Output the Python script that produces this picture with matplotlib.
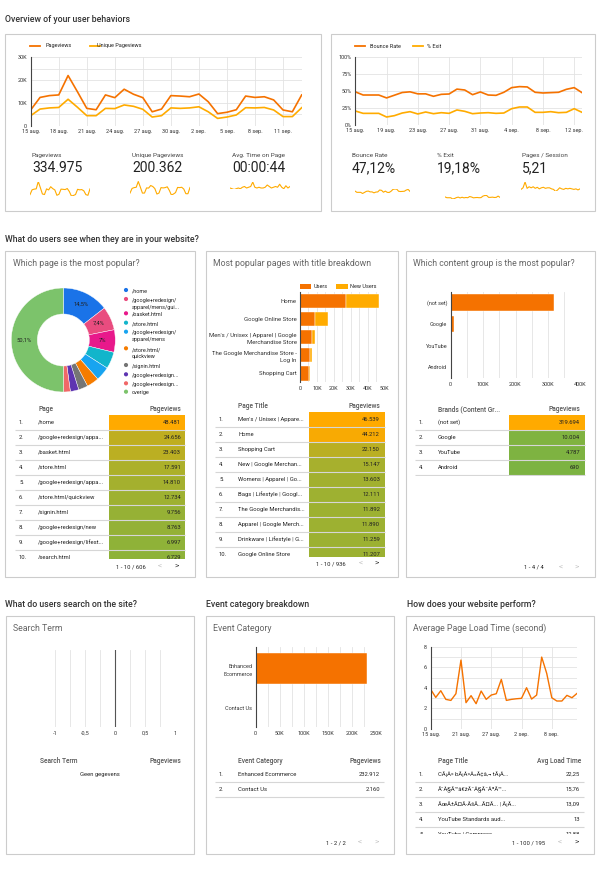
import matplotlib
matplotlib.use('Agg')
import matplotlib.pyplot as plt
from matplotlib.patches import Rectangle
from matplotlib.lines import Line2D
from matplotlib.ticker import MultipleLocator
import numpy as np

plt.rcParams['font.family'] = ['Roboto', 'DejaVu Sans']

# ---------------- data ----------------
days = list(range(30))  # 15 aug .. 13 sep

ticks_a = [0, 3, 6, 9, 12, 15, 18, 21, 24, 27]
tick_labels_a = ['15 aug.', '18 aug.', '21 aug.', '24 aug.', '27 aug.', '30 aug.',
                 '2 sep.', '5 sep.', '8 sep.', '11 sep.']
ticks_b = [0, 4, 8, 12, 16, 20, 24, 28]
tick_labels_b = ['15 aug.', '19 aug.', '23 aug.', '27 aug.', '31 aug.', '4 sep.',
                 '8 sep.', '12 sep.']
ticks_c = [0, 6, 12, 18, 24]
tick_labels_c = ['15 aug.', '21 aug.', '27 aug.', '2 sep.', '8 sep.']

pageviews = [6900, 12400, 13200, 13500, 22000, 14900, 7600, 7000, 13500, 12300,
             16000, 13800, 12300, 6100, 7300, 13200, 13000, 12700, 13900, 10500,
             5300, 5900, 7000, 13000, 12400, 12700, 11300, 6900, 6100, 13500]
unique_pageviews = [4400, 7300, 7800, 8000, 11600, 8100, 4400, 4400, 7600, 7500,
                    9100, 8500, 7200, 3800, 4400, 7800, 7600, 7800, 8300, 6100,
                    3200, 3800, 4700, 7900, 7800, 8000, 6900, 4000, 4000, 7900]
avg_time_on_page = [43, 42, 41, 42, 43, 42, 44, 45, 43, 44, 45, 51, 44, 43, 44,
                    43, 43, 44, 47, 45, 43, 44, 45, 44, 48, 44, 42, 46, 43, 45]
bounce_rate = [49, 44.3, 44.3, 44.3, 40, 44, 48, 49, 46, 46, 42.4, 45.3, 45.8, 53,
               51.7, 44.8, 48.8, 44.3, 43.8, 48.3, 55.2, 56.7, 56.2, 48.3, 47.3,
               47.8, 48.3, 52.7, 55.2, 47.8]
exit_rate = [20.7, 17.2, 17.2, 17.2, 11.8, 13.8, 17.7, 19.7, 16.3, 19.2, 16.7, 18.2,
             17.2, 22.2, 20.2, 16.7, 17.7, 18.2, 17.2, 17.7, 24.1, 26.6, 26.6, 18.7,
             18.7, 19.7, 18.2, 18.7, 24.1, 18.7]
pages_per_session = [5.0, 5.3, 6.4, 5.2, 5.5, 5.3, 5.5, 5.2, 5.4, 5.1, 5.3, 5.4, 5.2,
                     5.3, 5.3, 5.1, 5.0, 4.6, 4.9, 5.3, 5.1, 5.0, 5.2, 5.1, 5.2, 5.1,
                     5.0, 5.1, 4.9, 5.1]
load_time = [3.85, 3.07, 3.72, 2.88, 2.78, 3.43, 6.70, 2.56, 3.24, 2.46, 3.69, 2.88,
             3.30, 3.43, 4.82, 2.78, 2.88, 2.94, 2.98, 4.01, 2.91, 3.30, 6.99, 5.40,
             3.04, 2.72, 2.72, 3.27, 3.04, 3.46]

kpi_left_labels = ['Pageviews', 'Unique Pageviews', 'Avg. Time on Page']
kpi_left_values = ['334.975', '200.362', '00:00:44']
kpi_right_labels = ['Bounce Rate', '% Exit', 'Pages / Session']
kpi_right_values = ['47,12%', '19,18%', '5,21']

total_pageviews = 334975
pages = ['/home', '/google+redesign/appa...', '/basket.html', '/store.html',
         '/google+redesign/appa...', '/store.html/quickview', '/signin.html',
         '/google+redesign/new', '/google+redesign/lifest...', '/search.html']
page_views = [48481, 24656, 23403, 17591, 14810, 12734, 9756, 8763, 6997, 6729]
pie_legend = ['/home', '/google+redesign/\napparel/mens/gui...', '/basket.html',
              '/store.html', '/google+redesign/\napparel/mens', '/store.html/\nquickview',
              '/signin.html', '/google+redesign...', '/google+redesign...', 'overige']
pie_colors = ['#1a73e8', '#e94c7f', '#e8198b', '#12b5cb', '#18a4f0', '#f57c00',
              '#757575', '#5e35b1', '#f06868', '#7cc36b']

bar_titles = ['Home', 'Google Online Store',
              "Men's / Unisex | Apparel | Google\nMerchandise Store",
              'The Google Merchandise Store -\nLog In', 'Shopping Cart']
bar_users = [27400, 8900, 7300, 5900, 5300]
bar_new_users = [19100, 7600, 1400, 1200, 800]

page_titles = ["Men's / Unisex | Appare...", 'Home', 'Shopping Cart',
               'New | Google Merchan...', 'Womens | Apparel | Go...',
               'Bags | Lifestyle | Googl...', 'The Google Merchandis...',
               'Apparel | Google Merch...', 'Drinkware | Lifestyle | G...',
               'Google Online Store']
page_title_views = [46539, 44212, 22150, 15147, 13603, 12111, 11892, 11890, 11259, 11207]

brands = ['(not set)', 'Google', 'YouTube', 'Android']
brand_views = [319694, 10004, 4787, 690]

event_categories = ['Enhanced\nEcommerce', 'Contact Us']
event_table_labels = ['Enhanced Ecommerce', 'Contact Us']
event_views = [232912, 2160]

load_titles = ['CÃ¡Â» bÃ¡Â»Â«Ã¢â‚¬ tÃ¡Â...', 'Ã˜Â§Ã™â€žÃ˜Â§Ã˜ÂªÃ™...',
               'ÃœÃ±Ã¤Ã­ÃšÃ…Ã¤Ã... | Ã¡Ã...', 'YouTube Standards aud...',
               'YouTube | Compress...']
load_values = [22.25, 15.76, 13.09, 13.0, 12.88]

# ---------------- style ----------------
W, H = 600, 871
C_DARK = '#f57200'
C_LIGHT = '#ffab00'
GRID = '#e3e3e3'
TXT = '#222222'
GREEN = np.array([124, 179, 66]) / 255
ORANGE = np.array([255, 170, 0]) / 255

fig = plt.figure(figsize=(6, 8.71), dpi=100)
fig.patch.set_facecolor('white')


def fx(x):
    return x / W


def fy(y):
    return 1 - y / H


def add_ax(x, y, w, h):
    return fig.add_axes([x / W, 1 - (y + h) / H, w / W, h / H])


def T(x, y, s, size=5, color=TXT, ha='left', va='center', **kw):
    fig.text(fx(x), fy(y), s, fontsize=size, color=color, ha=ha, va=va, **kw)


def box(x0, y0, x1, y1):
    fig.add_artist(Rectangle((fx(x0), fy(y1)), (x1 - x0) / W, (y1 - y0) / H,
                             transform=fig.transFigure, fill=False,
                             edgecolor='#cccccc', lw=0.8))


def leg_line(x0, x1, y, color):
    fig.add_artist(Line2D([fx(x0), fx(x1)], [fy(y), fy(y)], transform=fig.transFigure,
                          color=color, lw=1.3))


def leg_rect(x0, x1, y, color, h=4.6):
    fig.add_artist(Rectangle((fx(x0), fy(y + h / 2)), (x1 - x0) / W, h / H,
                             transform=fig.transFigure, color=color, lw=0))


def heat(v, vmax):
    t = v / vmax
    return tuple(GREEN * (1 - t) + ORANGE * t)


def fmt_int(v):
    return f'{v:,}'.replace(',', '.')


def kfmt(v):
    return '0' if v == 0 else f'{int(v / 1000)}K'


def style_axes(ax, left_spine=True):
    for s in ['top', 'right', 'bottom']:
        ax.spines[s].set_visible(False)
    ax.spines['left'].set_visible(left_spine)
    ax.spines['left'].set_color('#444444')
    ax.spines['left'].set_linewidth(0.8)
    ax.tick_params(length=0, labelsize=4, pad=2.5, colors='#333333')
    ax.set_axisbelow(True)


def sparkline(x, y, w, h, data, pad=0.0):
    ax = add_ax(x, y, w, h)
    ax.plot(range(len(data)), data, color=C_LIGHT, lw=0.8)
    lo, hi = min(data), max(data)
    r = hi - lo
    ax.set_ylim(lo - pad * r, hi + pad * r)
    ax.set_xlim(0, len(data) - 1)
    ax.axis('off')


# ---------------- section 1 ----------------
SEC = dict(size=6.3, color='#333333', fontweight='medium')
PT = dict(size=6.3, color='#666666')
T(5, 20, 'Overview of your user behaviors', **SEC)
box(5, 34, 321, 211)
box(331, 34, 595, 211)

# left line chart
leg_line(30, 40, 46, C_DARK)
T(45, 46, 'Pageviews', size=4)
leg_line(90, 100, 46, C_LIGHT)
T(97, 46, 'Unique Pageviews', size=4)
ax = add_ax(30.7, 57.3, 271, 68.4)
ax.plot(days, pageviews, color=C_DARK, lw=1.2)
ax.plot(days, unique_pageviews, color=C_LIGHT, lw=1.2)
ax.set_xlim(0, 29)
ax.set_ylim(0, 30000)
ax.set_yticks([0, 10000, 20000, 30000], [kfmt(v) for v in [0, 10000, 20000, 30000]])
ax.yaxis.set_minor_locator(MultipleLocator(5000))
ax.set_xticks(ticks_a, tick_labels_a)
ax.grid(which='both', axis='y', color=GRID, lw=0.6)
ax.grid(axis='x', color=GRID, lw=0.6)
style_axes(ax)
ax.tick_params(which='minor', length=0)

for i, (lab, val) in enumerate(zip(kpi_left_labels, kpi_left_values)):
    x0 = 32 + 100 * i
    T(x0, 155, lab, size=4.6, color='#444444')
    T(x0, 168, val, size=10)
sparkline(30, 181.5, 60, 14.5, pageviews)
sparkline(130, 181.5, 60, 13.5, unique_pageviews)
sparkline(230, 182, 60, 7.5, avg_time_on_page)

# right line chart
leg_line(355, 365, 46, C_DARK)
T(369.7, 46, 'Bounce Rate', size=4)
leg_line(413, 423, 46, C_LIGHT)
T(427, 46, '% Exit', size=4)
ax = add_ax(355.3, 57.3, 226.7, 67.7)
ax.plot(days, bounce_rate, color=C_DARK, lw=1.2)
ax.plot(days, exit_rate, color=C_LIGHT, lw=1.2)
ax.set_xlim(0, 29)
ax.set_ylim(0, 100)
ax.set_yticks([0, 25, 50, 75, 100], [f'{v}%' for v in [0, 25, 50, 75, 100]])
ax.set_xticks(ticks_b, tick_labels_b)
ax.grid(axis='both', color=GRID, lw=0.6)
style_axes(ax)

for i, (lab, val) in enumerate(zip(kpi_right_labels, kpi_right_values)):
    x0 = 352 + 85 * i
    T(x0, 155.7, lab, size=4.6, color='#444444')
    T(x0, 168, val, size=10)
sparkline(355, 189, 55, 4.5, bounce_rate)
sparkline(445, 195.5, 55, 3.5, exit_rate)
sparkline(521, 182, 59, 9.5, pages_per_session)

# ---------------- section 2 ----------------
T(5, 240, 'What do users see when they are in your website?', **SEC)
box(5, 251, 195, 577)
box(206, 251, 398, 577)
box(406, 251, 595, 577)
T(13, 263.3, 'Which page is the most popular?', **PT)
T(213, 263.3, 'Most popular pages with title breakdown', **PT)
T(413, 263.3, 'Which content group is the most popular?', **PT)

# donut
pie_vals = page_views[:9] + [total_pageviews - sum(page_views[:9])]


def pct_fmt(p):
    if p < 6:
        return ''
    s = f'{p:.1f}'.replace('.', ',')
    if s.endswith(',0'):
        s = s[:-2]
    return s + '%'


ax = add_ax(11.3, 288, 104, 104)
ax.pie(pie_vals, colors=pie_colors, startangle=90, counterclock=False,
       wedgeprops=dict(width=0.5, edgecolor='white', linewidth=0.3),
       autopct=pct_fmt, pctdistance=0.76,
       textprops=dict(fontsize=4.2, color='#222222'))
ax.set_xlim(-1, 1)
ax.set_ylim(-1, 1)

lax = add_ax(120, 280, 75, 118)
lax.set_xlim(120, 195)
lax.set_ylim(398, 280)
lax.axis('off')
leg_y = [290, 299, 313.3, 322.7, 331.7, 348.3, 365, 374.3, 383.3, 391.7]
lax.scatter([126] * len(pie_legend), leg_y, s=9, c=pie_colors, linewidths=0)
for yy, lab in zip(leg_y, pie_legend):
    lax.text(131.7, yy - 1.3, lab, fontsize=4, color='#222222', va='top',
             linespacing=1.5)


# tables
def draw_table(px0, px1, top, bottom, first_c, row_h, labels, values, num_x, label_x,
               val_x, val_fmt, cell=None, sep=(None, None), last_sep=True):
    ax = add_ax(px0, top, px1 - px0, bottom - top)
    ax.set_xlim(px0, px1)
    ax.set_ylim(bottom, top)
    ax.axis('off')
    n = len(values)
    centers = first_c + row_h * np.arange(n)
    if cell is not None:
        vmax = max(values)
        ax.barh(centers, cell[1] - cell[0], left=cell[0], height=row_h,
                color=[heat(v, vmax) for v in values], lw=0)
    seps = centers + row_h / 2
    if not last_sep:
        seps = seps[:-1]
    ax.hlines(seps, sep[0], sep[1], color='#d6d6d6', lw=0.8)
    for i, (lab, v) in enumerate(zip(labels, values)):
        c = centers[i]
        ax.text(num_x, c, f'{i + 1}.', fontsize=4.2, color=TXT, va='center', clip_on=True)
        ax.text(label_x, c, lab, fontsize=4.2, color=TXT, va='center', clip_on=True)
        ax.text(val_x, c, val_fmt(v), fontsize=4.2, color=TXT, va='center', ha='right',
                clip_on=True)
    return ax


def footer(xc, y, text, x_prev, x_next, next_active=True):
    T(xc, y, text, size=4.2, ha='center')
    T(x_prev, y, '<', size=6, color='#c4c4c4', ha='center')
    T(x_next, y, '>', size=6, color='#333333' if next_active else '#c4c4c4', ha='center')


HDR = dict(size=4.8, color='#555555', fontweight='medium')

# table 1
T(38.3, 409, 'Page', **HDR)
T(181, 409, 'Pageviews', ha='right', **HDR)
draw_table(5, 195, 414.8, 559, 422.3, 15, pages, page_views, 19, 38.3, 181, fmt_int,
           cell=(109, 185), sep=(15, 185), last_sep=False)
footer(131, 566.7, '1 - 10 / 606', 160, 176.7)

# middle bar chart
leg_rect(299.7, 311.3, 286.7, C_DARK)
T(313.3, 286.7, 'Users', size=4)
leg_rect(336, 348, 286.7, C_LIGHT)
T(349.7, 286.7, 'New Users', size=4)
ax = add_ax(300, 292.3, 84.7, 90)
yb = np.arange(len(bar_titles))
ax.barh(yb, bar_users, height=0.8, color=C_DARK, edgecolor='white', linewidth=0.3)
ax.barh(yb, bar_new_users, left=bar_users, height=0.8, color=C_LIGHT,
        edgecolor='white', linewidth=0.3)
ax.set_ylim(len(bar_titles) - 0.5, -0.5)
ax.set_xlim(0, 50000)
ax.set_xticks(range(0, 50001, 10000), [kfmt(v) for v in range(0, 50001, 10000)])
ax.xaxis.set_minor_locator(MultipleLocator(5000))
ax.set_yticks(yb, bar_titles)
ax.grid(which='both', axis='x', color=GRID, lw=0.6)
style_axes(ax)
ax.tick_params(which='minor', length=0)
ax.tick_params(axis='y', labelsize=4.3)
for t in ax.get_yticklabels():
    t.set_multialignment('right')
    t.set_linespacing(1.6)

# table 2
T(238, 406, 'Page Title', **HDR)
T(380, 406, 'Pageviews', ha='right', **HDR)
draw_table(206, 398, 411.5, 556.7, 419, 15, page_titles, page_title_views, 219, 238,
           380, fmt_int, cell=(309, 384.7), sep=(215, 385), last_sep=False)
footer(331, 564, '1 - 10 / 936', 361.3, 376.3)

# right bar chart
ax = add_ax(450.7, 291.7, 129.6, 86.6)
yb = np.arange(len(brands))
ax.barh(yb, brand_views, height=0.75, color=C_DARK, edgecolor='white', linewidth=0.3)
ax.set_ylim(len(brands) - 0.5, -0.5)
ax.set_xlim(0, 400000)
ax.set_xticks(range(0, 400001, 100000), [kfmt(v) for v in range(0, 400001, 100000)])
ax.xaxis.set_minor_locator(MultipleLocator(50000))
ax.set_yticks(yb, brands)
ax.grid(which='both', axis='x', color=GRID, lw=0.6)
style_axes(ax)
ax.tick_params(which='minor', length=0)

# table 3
T(438, 409, 'Brands (Content Gr...', **HDR)
T(580, 409, 'Pageviews', ha='right', **HDR)
draw_table(406, 595, 414.8, 476, 422.3, 15, brands, brand_views, 419, 438, 580,
           fmt_int, cell=(509, 584.7), sep=(415, 585))
footer(533.5, 567.3, '1 - 4 / 4', 560.7, 577, next_active=False)

# ---------------- section 3 ----------------
T(5, 604.3, 'What do users search on the site?', **SEC)
T(206, 604.3, 'Event category breakdown', **SEC)
T(407.3, 604.3, 'How does your website perform?', **SEC)
box(6, 616, 194, 854)
box(206, 616, 394, 854)
box(406, 616, 594, 854)
T(13, 628.3, 'Search Term', **PT)
T(213, 628.3, 'Event Category', **PT)
T(413.3, 628.3, 'Average Page Load Time (second)', **PT)

# empty search chart
ax = add_ax(55, 650, 120.3, 77.3)
ax.set_xlim(-1, 1)
ax.set_ylim(0, 1)
ax.set_xticks([-1, -0.5, 0, 0.5, 1], ['-1', '-0,5', '0', '0,5', '1'])
ax.xaxis.set_minor_locator(MultipleLocator(0.25))
ax.set_yticks([])
ax.grid(which='both', axis='x', color=GRID, lw=0.6)
ax.axvline(0, color='#555555', lw=0.8)
style_axes(ax, left_spine=False)
ax.tick_params(which='minor', length=0)
T(58.3, 760.7, 'Search Term', ha='center', **HDR)
T(181, 760.7, 'Pageviews', ha='right', **HDR)
T(100, 774, 'Geen gegevens', size=4.2, ha='center')

# event chart
ax = add_ax(255.7, 646.7, 120, 80.6)
ye = np.arange(len(event_categories))
ax.barh(ye, event_views, height=0.8, color=C_DARK, edgecolor='white', linewidth=0.3)
ax.set_ylim(len(event_categories) - 0.5, -0.56)
ax.set_xlim(0, 250000)
ax.set_xticks(range(0, 250001, 50000), [kfmt(v) for v in range(0, 250001, 50000)])
ax.xaxis.set_minor_locator(MultipleLocator(25000))
ax.set_yticks(ye, event_categories)
ax.grid(which='both', axis='x', color=GRID, lw=0.6)
style_axes(ax)
ax.tick_params(which='minor', length=0)
for t in ax.get_yticklabels():
    t.set_multialignment('right')
    t.set_linespacing(1.6)

T(238.3, 760.7, 'Event Category', **HDR)
T(381, 760.7, 'Pageviews', ha='right', **HDR)
draw_table(206, 394, 766.5, 800, 774, 15, event_table_labels, event_views, 219, 238.3,
           380, fmt_int, sep=(215, 384.3))
footer(336, 842.7, '1 - 2 / 2', 360, 376.7, next_active=False)

# load time chart
ax = add_ax(430.7, 646.7, 146.3, 82.3)
ax.plot(days, load_time, color=C_DARK, lw=1.0)
ax.set_xlim(0, 29)
ax.set_ylim(0, 8)
ax.set_yticks([0, 2, 4, 6, 8], ['0', '2', '4', '6', '8'])
ax.yaxis.set_minor_locator(MultipleLocator(1))
ax.set_xticks(ticks_c, tick_labels_c)
ax.grid(which='both', axis='y', color=GRID, lw=0.6)
ax.grid(axis='x', color=GRID, lw=0.6)
style_axes(ax)
ax.tick_params(which='minor', length=0)

T(438.3, 760.7, 'Page Title', **HDR)
T(581, 760.7, 'Avg Load Time', ha='right', **HDR)


def dec_fmt(v):
    s = f'{v:.2f}'
    if s.endswith('.00'):
        s = s[:-3]
    return s.replace('.', ',')


draw_table(406, 594, 766.5, 834.3, 774, 15, load_titles, load_values, 419, 438.3, 580,
           dec_fmt, sep=(415, 584.3))
footer(529, 842.7, '1 - 100 / 195', 560, 576.7)

fig.savefig('out.png', dpi=100, facecolor='white')
